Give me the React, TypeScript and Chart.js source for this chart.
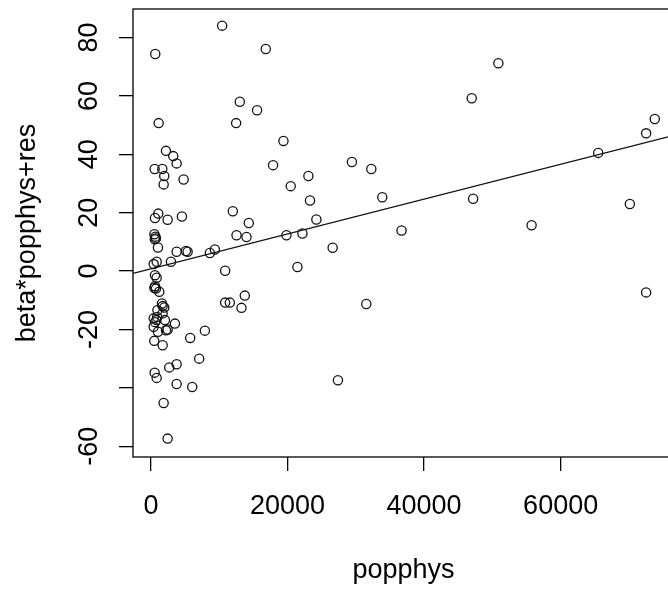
import React, { useEffect, useRef } from 'react';
import { Chart, registerables } from 'chart.js';

Chart.register(...registerables);

// popphys values (x) and beta*popphys+res values (y)
const popphys = [
  10424, 629, 16813, 13012, 15541, 1126, 12471, 19401, 2193, 3260,
  3757, 541, 1652, 1944, 1857, 4781, 17880, 23056, 20468, 23290,
  11988, 14327, 1067, 585, 2441, 4532, 24224, 12529, 13991, 19839,
  22178, 50877, 46974, 29430, 32268, 33874, 47178, 36696, 73788, 72515,
  65498, 70133, 55747, 72515, 26608, 21448, 31535, 27383,
  500, 650, 560, 720, 1023, 3757, 5117, 5366, 8626, 9357,
  2924, 395, 833, 10863, 585, 833, 585, 731, 1213, 500,
  1608, 1944, 1710, 950, 395, 800, 900, 395, 600, 2047,
  2441, 3509, 1023, 482, 1710, 10863, 11550, 13743, 13260, 7895,
  5746, 7062, 3757, 2675, 541, 833, 3757, 6038, 1857, 2441,
  1700, 2200
];
const betaPopphysRes = [
  84.1, 74.4, 76.1, 58.0, 55.1, 50.7, 50.7, 44.6, 41.2, 39.4,
  36.9, 35.0, 35.0, 32.6, 29.7, 31.4, 36.3, 32.6, 29.1, 24.2,
  20.5, 16.5, 19.7, 18.2, 17.6, 18.7, 17.7, 12.3, 11.7, 12.3,
  12.9, 71.2, 59.2, 37.4, 35.0, 25.3, 24.8, 13.9, 52.1, 47.2,
  40.5, 23.0, 15.7, -7.3, 8.0, 1.4, -11.3, -37.4,
  12.6, 11.8, 10.9, 11.2, 8.1, 6.6, 6.9, 6.6, 6.2, 7.4,
  3.2, 2.4, 3.2, 0.1, -1.4, -2.3, -5.2, -6.0, -7.1, -5.8,
  -11.1, -12.5, -12.0, -13.4, -16.2, -16.8, -15.7, -19.1, -17.5, -16.8,
  -20.0, -18.0, -20.8, -23.9, -25.4, -10.8, -10.8, -8.4, -12.6, -20.4,
  -22.9, -30.0, -31.9, -33.0, -34.8, -36.6, -38.7, -39.7, -45.2, -57.4,
  -14.5, -20.3
];

const xTickValues = [0, 20000, 40000, 60000];
const xTickLabels = ['0', '20000', '40000', '60000'];
const yTickValues = [-60, -40, -20, 0, 20, 40, 60, 80];
const yTickLabels = ['-60', '', '-20', '0', '20', '40', '60', '80'];

const xRange = [-2632, 76600];
const yRange = [-63.7, 89.8];

// fitted line: y = intercept + slope * popphys
const fitIntercept = 0.75;
const fitSlope = 0.000597;

const FONT = '"Liberation Sans", Arial, sans-serif';

const boxPlugin = {
  id: 'plotBox',
  afterDatasetsDraw(chart: any) {
    const { ctx, chartArea } = chart;
    const { left, top, right, bottom } = chartArea;
    ctx.save();
    ctx.strokeStyle = '#000';
    ctx.lineWidth = 1.3;
    ctx.strokeRect(left, top, right - left, bottom - top);
    ctx.restore();
  },
};

export default function App() {
  const ref = useRef<HTMLCanvasElement | null>(null);

  useEffect(() => {
    const canvas = ref.current;
    if (!canvas) return;
    const points = popphys.map((x, i) => ({ x, y: betaPopphysRes[i] }));
    const linePts = xRange.map((x) => ({ x, y: fitIntercept + fitSlope * x }));

    const chart = new Chart(canvas, {
      type: 'scatter',
      data: {
        datasets: [
          {
            type: 'scatter',
            data: points,
            pointStyle: 'circle',
            pointRadius: 4.6,
            pointBorderWidth: 1.3,
            borderColor: '#111',
            backgroundColor: 'rgba(0,0,0,0)',
          } as any,
          {
            type: 'line',
            data: linePts,
            borderColor: '#111',
            borderWidth: 1.3,
            pointRadius: 0,
            fill: false,
          } as any,
        ],
      },
      options: {
        responsive: false,
        animation: false,
        layout: { padding: { left: 0, top: 9, right: 26, bottom: 0 } },
        plugins: {
          legend: { display: false },
          tooltip: { enabled: false },
        },
        scales: {
          x: {
            type: 'linear',
            min: xRange[0],
            max: xRange[1],
            afterBuildTicks: (s: any) => {
              s.ticks = xTickValues.map((v) => ({ value: v }));
            },
            afterFit: (s: any) => {
              s.height = 133;
              s.paddingLeft = 0;
              s.paddingRight = 0;
              s.paddingTop = 0;
              s.paddingBottom = 0;
            },
            ticks: {
              autoSkip: false,
              minRotation: 0,
              maxRotation: 0,
              padding: 19,
              color: '#000',
              font: { family: FONT, size: 27 },
              callback: (_v: any, i: number) => xTickLabels[i],
            },
            grid: {
              display: true,
              drawOnChartArea: false,
              drawTicks: true,
              tickLength: 14,
              color: '#000',
              lineWidth: 1.3,
            },
            border: { display: false },
            title: {
              display: true,
              text: 'popphys',
              color: '#000',
              font: { family: FONT, size: 27 },
              padding: { top: 0, bottom: 3 },
            },
          },
          y: {
            type: 'linear',
            min: yRange[0],
            max: yRange[1],
            afterBuildTicks: (s: any) => {
              s.ticks = yTickValues.map((v) => ({ value: v }));
            },
            afterFit: (s: any) => {
              s.width = 133;
              s.paddingLeft = 0;
              s.paddingRight = 0;
              s.paddingTop = 0;
              s.paddingBottom = 0;
            },
            ticks: {
              autoSkip: false,
              minRotation: 90,
              maxRotation: 90,
              crossAlign: 'center',
              padding: 10.4,
              color: '#000',
              font: { family: FONT, size: 27 },
              callback: (_v: any, i: number) => yTickLabels[i],
            },
            grid: {
              display: true,
              drawOnChartArea: false,
              drawTicks: true,
              tickLength: 14,
              color: '#000',
              lineWidth: 1.3,
            },
            border: { display: false },
            title: {
              display: true,
              text: 'beta*popphys+res',
              color: '#000',
              font: { family: FONT, size: 27 },
              padding: { top: 11.4, bottom: 0 },
            },
          },
        },
      } as any,
      plugins: [boxPlugin],
    });
    return () => chart.destroy();
  }, []);

  return (
    <div
      style={{
        position: 'fixed',
        left: 0,
        top: 0,
        width: 668,
        height: 590,
        overflow: 'hidden',
        background: '#fff',
      }}
    >
      <canvas ref={ref} width={700} height={590} style={{ display: 'block' }} />
    </div>
  );
}
